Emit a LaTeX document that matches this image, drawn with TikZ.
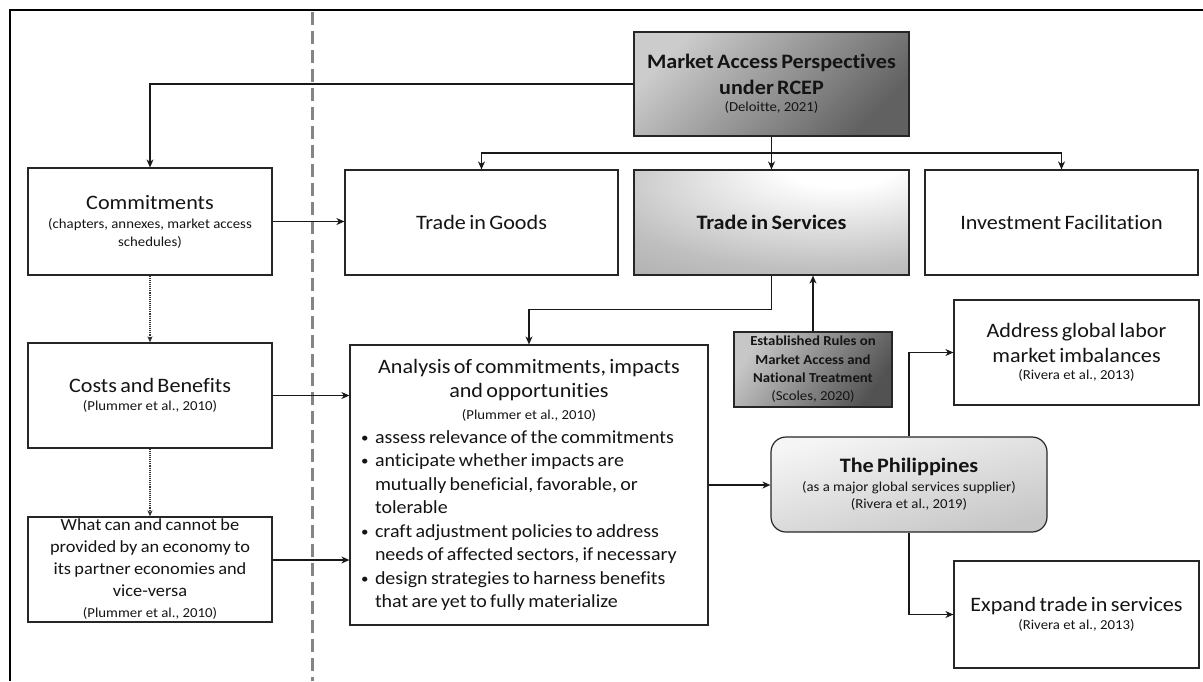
\documentclass[tikz,border=0pt]{standalone}
\usepackage{fontspec}
\setmainfont{Carlito}[FakeStretch=1.08,RawFeature={-liga;-clig;-dlig;-calt}]
\usetikzlibrary{arrows.meta,calc}
\newcommand\citsz{\fontsize{13.7}{17.5}\selectfont}
\newcommand\bigsz{\fontsize{20.5}{25}\selectfont}
\newcommand\bitem{\hangindent=14pt\hangafter=1\noindent\makebox[14pt][l]{\raisebox{1pt}{\scalebox{0.75}{\textbullet}}}}
\pgfdeclareradialshading{svcshade}{\pgfpoint{14bp}{30bp}}{color(0bp)=(white); color(10bp)=(white); color(40bp)=(black!25); color(70bp)=(black!40); color(100bp)=(black!48)}
\begin{document}
\begin{tikzpicture}[x=1pt,y=-1pt,
  box/.style={draw=black!85, line width=1.2pt, inner sep=0pt, align=center, text=black!92},
  arr/.style={line width=1.2pt, draw=black!90, -{Stealth[length=8pt,width=7pt,inset=2.5pt]}},
  dotarr/.style={line width=1.1pt, draw=black!80, densely dotted, -{Stealth[length=6pt,width=5pt,inset=1.5pt]}},
  plainline/.style={line width=1.2pt, draw=black!90}
]
\useasboundingbox (0,0) rectangle (1203,681);
% frame and separator
\draw[line width=1.4pt] (10,681) -- (10,10) -- (1203,10);
\draw[black!48, line width=3pt, dash pattern=on 13pt off 6pt] (312,12) -- (312,681);

% nodes
\node[box, shade, top color=black!20, bottom color=black!62, shading angle=45,
      minimum width=275, minimum height=104, text width=268] (mkt) at (771.5,84)
  {{\bfseries\fontsize{20.5}{25.5}\selectfont Market Access Perspectives\\under RCEP\par}{\citsz (Deloitte, 2021)\par}};

\node[box, minimum width=244, minimum height=107, text width=236] (com) at (150,221.5)
  {{\bigsz Commitments\par}\vspace{2pt}{\citsz (chapters, annexes, market access\\schedules)\par}};

\node[box, minimum width=273, minimum height=105, text width=265] (goods) at (481.5,222.5)
  {\bigsz Trade in Goods};

\node[box, shade, shading=svcshade, minimum width=275, minimum height=105, text width=265] (svc) at (771.5,222.5)
  {\bigsz\bfseries Trade in Services};

\node[box, minimum width=273, minimum height=105, text width=265] (inv) at (1061.5,222.5)
  {\bigsz Investment Facilitation};

\node[box, minimum width=244, minimum height=105, text width=236] (cost) at (150,395.5)
  {{\bigsz Costs and Benefits\par}\vspace{1pt}{\citsz (Plummer et al., 2010)\par}};

\node[box, minimum width=244, minimum height=105, text width=236] (what) at (150,569.5)
  {{\fontsize{17}{22}\selectfont What can and cannot be\\provided by an economy to\\its partner economies and\\vice-versa\par}{\fontsize{13.7}{21}\selectfont (Plummer et al., 2010)\par}};

\node[box, minimum width=358, minimum height=280, text width=336, align=left] (ana) at (529,485)
  {\parindent=0pt
   {\centering\fontsize{20.5}{24}\selectfont Analysis of commitments, impacts\\and opportunities\par}%
   {\centering\fontsize{13.7}{22}\selectfont (Plummer et al., 2010)\par}%
   {\fontsize{18.5}{23.5}\selectfont
    \bitem assess relevance of the commitments\par
    \bitem anticipate whether impacts are\newline mutually beneficial, favorable, or\newline tolerable\par
    \bitem craft adjustment policies to address\newline needs of affected sectors, if necessary\par
    \bitem design strategies to harness benefits\newline that are yet to fully materialize\par}};

\node[box, shade, top color=black!22, bottom color=black!68, shading angle=55,
      minimum width=158, minimum height=75, text width=154] (est) at (813,369.5)
  {{\bfseries\fontsize{13.7}{18.3}\selectfont Established Rules on\\Market Access and\\National Treatment\par}{\fontsize{13.7}{18.3}\selectfont (Scoles, 2020)\par}};

\node[box, rounded corners=15pt, shade, top color=black!4, bottom color=black!22, shading angle=15,
      minimum width=276, minimum height=95, text width=268] (phil) at (909,484.5)
  {{\bigsz\bfseries The Philippines\par}\vspace{1pt}{\citsz (as a major global services supplier)\\(Rivera et al., 2019)\par}};

\node[box, minimum width=245, minimum height=105, text width=238] (addr) at (1076.5,352.5)
  {{\bigsz Address global labor\\market imbalances\par}{\citsz (Rivera et al., 2013)\par}};

\node[box, minimum width=245, minimum height=107, text width=238] (exp) at (1076.5,614.5)
  {{\bigsz Expand trade in services\par}\vspace{1pt}{\citsz (Rivera et al., 2013)\par}};

% connectors
\draw[arr] (mkt.west) -| (com.north);
\coordinate (hub) at (771.5,153);
\draw[plainline] (mkt.south) -- (hub);
\draw[arr] (hub) -- (svc.north);
\draw[arr] (hub) -| (goods.north);
\draw[arr] (hub) -| (inv.north);
\draw[arr] (com.east) -- (com.east -| goods.west);
\draw[dotarr] (com.south) -- (cost.north);
\draw[dotarr] (cost.south) -- (what.north);
\draw[arr] (cost.east) -- (cost.east -| ana.west);
\coordinate (wo) at ($(what.east)+(0,-9.5)$);
\draw[arr] (wo) -- (wo -| ana.west);
\draw[arr] (svc.south) -- ++(0,34) -| (ana.north);
\draw[arr] (est.north) -- (est.north |- svc.south);
\draw[arr] (ana.east) -- (ana.east -| phil.west);
\draw[arr] (phil.north) |- (addr.west);
\draw[arr] (phil.south) |- (exp.west);
\end{tikzpicture}
\end{document}
